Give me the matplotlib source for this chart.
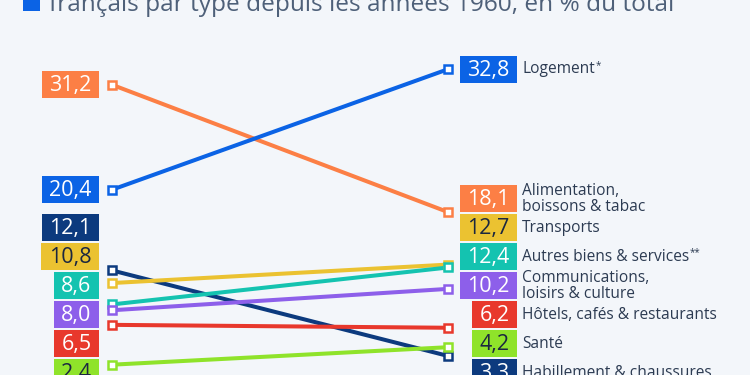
import matplotlib
matplotlib.use("Agg")
import matplotlib.pyplot as plt
from matplotlib.patches import Rectangle

# ---------------- data ----------------
categories = ["Logement", "Alimentation,\nboissons & tabac", "Transports",
              "Autres biens & services", "Communications,\nloisirs & culture",
              "Hôtels, cafés & restaurants", "Santé", "Habillement & chaussures"]
superscripts = ["*", "", "", "**", "", "", "", ""]
values_1960 = [20.4, 31.2, 10.8, 8.6, 8.0, 6.5, 2.4, 12.1]
values_now = [32.8, 18.1, 12.7, 12.4, 10.2, 6.2, 4.2, 3.3]
colors = ["#0b63e5", "#fc7f45", "#ebc231", "#14c3b0", "#8d5fea", "#e8382c", "#8fe32a", "#0c3a7e"]
box_text_colors = ["white", "white", "#1b2740", "white", "white", "white", "#1b2740", "white"]
title = "français par type depuis les années 1960, en % du total"

# ---------------- style ----------------
BG = "#f3f6fa"
plt.rcParams['font.family'] = ['Open Sans', 'DejaVu Sans']

W, H = 750, 375
fig = plt.figure(figsize=(W / 100, H / 100), dpi=100, facecolor=BG)
ax = fig.add_axes([0, 0, 1, 1])
ax.set_facecolor(BG)
ax.set_xlim(-112 / 336, 638 / 336)
ax.set_ylim(1.34, 39.92)
ax.axis("off")

px_per_x = W / (ax.get_xlim()[1] - ax.get_xlim()[0])
px_per_y = H / (ax.get_ylim()[1] - ax.get_ylim()[0])


def fmt(v):
    return f"{v:.1f}".replace(".", ",")


def spread(vals, gap, lo):
    """Non-overlapping box centres (cluster merge), bounded below by lo."""
    idx = sorted(range(len(vals)), key=lambda i: vals[i])
    clusters = [[i] for i in idx]
    pos = {}

    def place(cl):
        m = sum(vals[i] for i in cl) / len(cl)
        start = m - gap * (len(cl) - 1) / 2
        return max(start, lo)

    changed = True
    while changed:
        changed = False
        starts = [place(c) for c in clusters]
        for k in range(len(clusters) - 1):
            top_k = starts[k] + gap * (len(clusters[k]) - 1)
            if starts[k + 1] - top_k < gap - 1e-9:
                clusters[k] = clusters[k] + clusters[k + 1]
                del clusters[k + 1]
                changed = True
                break
    for c in clusters:
        s = place(c)
        for j, i in enumerate(c):
            pos[i] = s + j * gap
    return [pos[i] for i in range(len(vals))]


gap = 29 / px_per_y
box_h = 27 / px_per_y
lo = 1.58
left_pos = spread(values_1960, gap, lo)
right_pos = spread(values_now, gap, lo)

# lines & markers
order = [7, 2, 3, 4, 5, 6, 1, 0]
for k, i in enumerate(order):
    ax.plot([0, 1], [values_1960[i], values_now[i]], color=colors[i], lw=2.9,
            solid_capstyle="butt", zorder=2 + k * 0.1)
    ax.plot([0, 1], [values_1960[i], values_now[i]], ls="none", marker="s", ms=6.2,
            mfc="white", mec=colors[i], mew=1.8, zorder=3 + k * 0.1)

fig.canvas.draw()
renderer = fig.canvas.get_renderer()
x0 = ax.get_xlim()[0]


def box(xright_px, yc, text, fc, tc):
    t = ax.text(0, yc, text, fontsize=15.5, color=tc, ha="center", va="center", zorder=6)
    w = t.get_window_extent(renderer).width + 15
    xr = x0 + xright_px / px_per_x
    xl = xr - w / px_per_x
    t.set_x((xl + xr) / 2)
    t.set_y(yc - 0.8 / px_per_y)
    ax.add_patch(Rectangle((xl, yc - box_h / 2), xr - xl, box_h, facecolor=fc,
                           edgecolor="none", zorder=5))


for i in range(len(categories)):
    box(99, left_pos[i], fmt(values_1960[i]), colors[i], box_text_colors[i])
    box(517, right_pos[i], fmt(values_now[i]), colors[i], box_text_colors[i])
    t = ax.text(x0 + 522 / px_per_x, right_pos[i], categories[i], fontsize=11.2,
                color="#2c3b52", ha="left", va="center", linespacing=1.0, zorder=6)
    if superscripts[i]:
        bb = t.get_window_extent(renderer)
        ax.text(x0 + (bb.x1 + 0.5) / px_per_x, right_pos[i] + 4 / px_per_y, superscripts[i],
                fontsize=7, color="#2c3b52", ha="left", va="center", zorder=6)

# title (cropped at top)
fig.patches.append(Rectangle((23 / W, 1 - 11 / H), 17 / W, 17 / H,
                             transform=fig.transFigure, facecolor="#0b63e5",
                             edgecolor="none"))
fig.text(49 / W, 1 - 11 / H, title, fontsize=17.6, color="#4e6079", ha="left", va="baseline")

fig.savefig("out.png", dpi=100, facecolor=BG)
